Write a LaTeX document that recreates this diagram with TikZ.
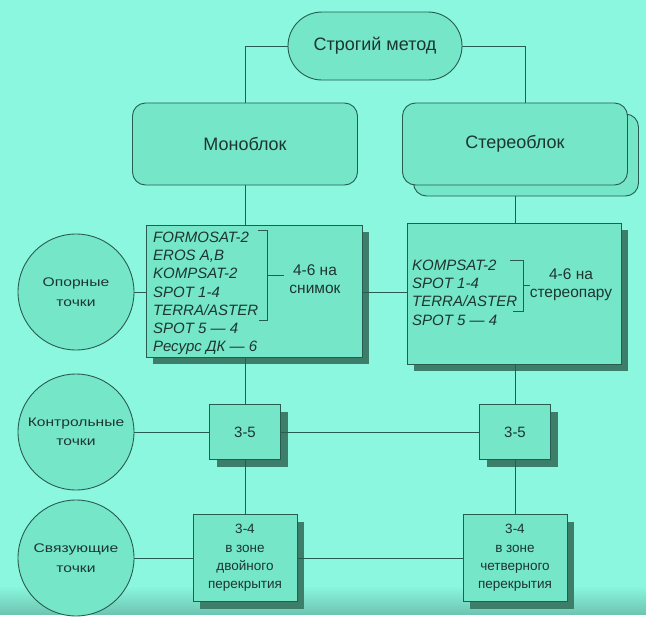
\documentclass[tikz,border=0pt]{standalone}
\usepackage{fontspec}
\setmainfont{Liberation Sans}
\newfontfamily\shirokiy[FakeStretch=1.25]{Liberation Sans}
\usetikzlibrary{shadows}

\definecolor{fon}{RGB}{138,247,222}
\definecolor{zalivka}{RGB}{118,230,200}
\definecolor{kontur}{RGB}{40,92,80}
\definecolor{ten}{RGB}{60,126,106}
\definecolor{tekst}{RGB}{28,54,48}

\begin{document}
\begin{tikzpicture}[x=1pt,y=-1pt,
        every node/.style={text=tekst},
        blok/.style={draw=kontur,fill=zalivka,line width=.9pt,inner sep=0pt},
        oval/.style={blok,rounded corners=34pt,minimum width=174pt,minimum height=68pt,font=\fontsize{18}{20}\selectfont},
        ramka/.style={blok,rounded corners=13pt,minimum width=225pt,minimum height=82pt,font=\fontsize{18}{20}\selectfont},
        kvadrat/.style={blok,drop shadow={shadow xshift=7pt,shadow yshift=-7pt,fill=ten,opacity=1}},
        krug/.style={blok,circle,minimum size=116pt,align=center,font=\shirokiy\fontsize{12.5}{19.5}\selectfont},
        spisok/.style={anchor=north west,inner sep=0pt,align=left,font=\fontsize{15}{18.3}\selectfont\itshape},
        chislo/.style={align=center,inner sep=0pt,font=\fontsize{15.5}{18}\selectfont},
        liniya/.style={draw=kontur,line width=1pt},
        skobka/.style={draw=kontur,line width=.5pt}]
    % fon
    \fill[fon] (0,0) rectangle (646,614);
    \shade[top color=fon,bottom color=fon!80!black] (0,586) rectangle (646,614);

    % verkh
    \node[oval] (metod) at (375,46) {Строгий метод};
    \node[ramka] (mono) at (245,144) {Моноблок};
    \node[ramka] (stereozad) at (526,155) {};
    \node[ramka] (stereo) at (515,144) {Стереоблок};
    \draw[liniya] (metod.west) -| (mono.north);
    \draw[liniya] (metod.east) -| ([xshift=10pt]stereo.north);

    % opornye tochki
    \node[kvadrat,minimum width=216pt,minimum height=132pt] (monospisok) at (254,291) {};
    \node[kvadrat,minimum width=214pt,minimum height=141pt] (stereospisok) at (514,293.5) {};
    \node[spisok] (monosputniki) at (153,231.5) {FORMOSAT-2\\EROS A,B\\KOMPSAT-2\\SPOT 1-4\\TERRA/ASTER\\SPOT 5 --- 4\\Ресурс ДК --- 6};
    \node[spisok] (stereosputniki) at (412,259.5) {KOMPSAT-2\\SPOT 1-4\\TERRA/ASTER\\SPOT 5 --- 4};
    \draw[skobka] (258,230) -- (267,230) -- (267,320) -- (259,320);
    \draw[skobka] (267,275) -- (284,275);
    \draw[skobka] (510,260) -- (523,260) -- (523,311) -- (513,311);
    \draw[skobka] (523,285) -- (530,285);
    \node[chislo] (monochislo) at (315,279) {4-6 на\\снимок};
    \node[chislo] (stereochislo) at (571,285) {4-6 на\\стереопару};
    \node[krug] (opornye) at (76,292) {Опорные\\точки};
    \draw[liniya] (mono.south) -- (mono.south |- monospisok.north);
    \draw[liniya] (stereozad.south -| stereo.south) -- (stereo.south |- stereospisok.north);
    \draw[liniya] (opornye.east) -- (opornye.east -| monospisok.west);
    \draw[liniya] (monospisok.east |- opornye.east) -- (stereospisok.west |- opornye.east);

    % kontrolnye tochki
    \node[krug] (kontrolnye) at (76,432) {Контрольные\\точки};
    \node[kvadrat,minimum width=71pt,minimum height=55pt,font=\fontsize{15}{18}\selectfont] (kontrmono) at (245,432) {3-5};
    \node[kvadrat,minimum width=71pt,minimum height=55pt,font=\fontsize{15}{18}\selectfont] (kontrstereo) at (515,432) {3-5};
    \draw[liniya] (mono.south |- monospisok.south) -- (kontrmono.north);
    \draw[liniya] (stereo.south |- stereospisok.south) -- (kontrstereo.north);
    \draw[liniya] (kontrolnye.east) -- (kontrmono.west);
    \draw[liniya] (kontrmono.east) -- (kontrstereo.west);

    % svyazuyushchie tochki
    \node[krug] (svyazuyushchie) at (76,558) {Связующие\\точки};
    \node[kvadrat,minimum width=104pt,minimum height=87pt,align=center,font=\fontsize{13.5}{18.3}\selectfont] (svyazmono) at (245,558) {3-4\\в зоне\\двойного\\перекрытия};
    \node[kvadrat,minimum width=104pt,minimum height=87pt,align=center,font=\fontsize{13.5}{18.3}\selectfont] (svyazstereo) at (515,558) {3-4\\в зоне\\четверного\\перекрытия};
    \draw[liniya] (kontrmono.south) -- (svyazmono.north);
    \draw[liniya] (kontrstereo.south) -- (svyazstereo.north);
    \draw[liniya] (svyazuyushchie.east) -- (svyazmono.west);
    \draw[liniya] (svyazmono.east) -- (svyazstereo.west);
\end{tikzpicture}
\end{document}
